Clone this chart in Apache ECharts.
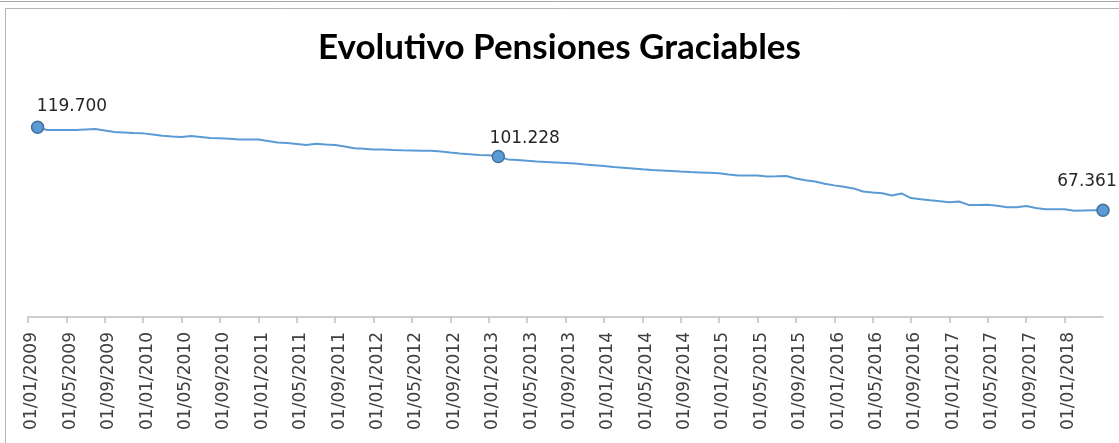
<!DOCTYPE html>
<html>
<head>
<meta charset="utf-8">
<title>Evolutivo Pensiones Graciables</title>
<script src="https://cdn.jsdelivr.net/npm/echarts@6/dist/echarts.min.js"></script>
<style>
  html, body { margin: 0; padding: 0; background: #fff; }
  #chart { width: 1119px; height: 443px; }
</style>
</head>
<body>
<div id="chart"></div>
<script>
  // etiquetas del eje, una cada 4 meses desde 01/01/2009
  var tickLabels = [
    '01/01/2009', '01/05/2009', '01/09/2009',
    '01/01/2010', '01/05/2010', '01/09/2010',
    '01/01/2011', '01/05/2011', '01/09/2011',
    '01/01/2012', '01/05/2012', '01/09/2012',
    '01/01/2013', '01/05/2013', '01/09/2013',
    '01/01/2014', '01/05/2014', '01/09/2014',
    '01/01/2015', '01/05/2015', '01/09/2015',
    '01/01/2016', '01/05/2016', '01/09/2016',
    '01/01/2017', '01/05/2017', '01/09/2017',
    '01/01/2018'
  ];

  // pensiones graciables a fin de cada mes, ene 2009 - abr 2018
  var pensiones = [
    119700, 117900, 117900, 117900, 117900, 118200, 118500, 117600, 116600, 116300, 116000, 115800,
    115100, 114300, 113800, 113500, 114100, 113500, 112900, 112700, 112400, 112000, 112000, 111900,
    111000, 110100, 109700, 109100, 108400, 109300, 108800, 108400, 107500, 106400, 106100, 105700,
    105600, 105300, 105100, 105000, 104900, 104800, 104400, 103700, 103100, 102600, 102100, 102000,
    101228, 99400, 99000, 98500, 98000, 97700, 97400, 97100, 96800, 96200, 95700, 95200,
    94600, 94100, 93600, 93100, 92700, 92400, 92100, 91700, 91400, 91200, 90900, 90600,
    89800, 89200, 89200, 89300, 88600, 88700, 88900, 87300, 86200, 85400, 84000, 83000,
    82100, 81100, 79100, 78500, 78100, 76600, 77900, 75000, 74300, 73600, 73000, 72300,
    72800, 70700, 70700, 70800, 70100, 69200, 69200, 70000, 68700, 67900, 67900, 67900,
    67000, 67200, 67300, 67361
  ];

  // puntos marcados con su valor
  var marcados = [0, 48, 111];

  var labelPos = {
    0: [6, -14],
    48: [-2, -11],
    111: [-39, -22]
  };

  function miles(v) {
    return String(v).replace(/\B(?=(\d{3})+(?!\d))/g, '.');
  }

  var seriesData = pensiones.map(function (v, i) {
    // el dato de cada mes se dibuja a fin de mes (un mes despues del dia 1)
    var item = { value: [i + 1, v] };
    if (marcados.indexOf(i) >= 0) {
      item.symbol = 'circle';
      item.symbolSize = 12;
      item.label = {
        show: true,
        position: labelPos[i],
        align: 'left',
        verticalAlign: 'middle',
        formatter: function (p) { return miles(p.value[1]); }
      };
    }
    return item;
  });

  var tickValues = tickLabels.map(function (t, k) { return k * 4; });

  var chart = echarts.init(document.getElementById('chart'));
  chart.setOption({
    animation: false,
    backgroundColor: '#fff',
    title: {
      text: 'Evolutivo Pensiones Graciables',
      left: 'center',
      top: 25,
      padding: [5, 5, 5, 13],
      textStyle: {
        fontFamily: 'Lato',
        fontWeight: 'bold',
        fontSize: 35,
        color: '#000'
      }
    },
    graphic: [{
      type: 'line',
      shape: { x1: 0, y1: 1.5, x2: 1119, y2: 1.5 },
      style: { stroke: '#a6a6a6', lineWidth: 1 }
    }, {
      type: 'rect',
      shape: { x: 5.5, y: 8.5, width: 1200, height: 500 },
      style: { fill: 'none', stroke: '#b5b5b5', lineWidth: 1 }
    }],
    grid: {
      left: 28,
      right: 16,
      top: 95,
      bottom: 126
    },
    xAxis: {
      type: 'value',
      min: 0,
      max: 112,
      splitLine: { show: false },
      axisLine: { lineStyle: { color: '#bfbfbf', width: 1.5 } },
      axisTick: {
        show: true,
        length: 6,
        customValues: tickValues,
        lineStyle: { color: '#bfbfbf', width: 1.5 }
      },
      axisLabel: {
        rotate: 90,
        margin: 15,
        verticalAlign: 'top',
        lineHeight: 8,
        customValues: tickValues,
        fontFamily: 'DejaVu Sans',
        fontSize: 17,
        color: '#404040',
        formatter: function (v) { return tickLabels[v / 4] || ''; }
      }
    },
    yAxis: {
      type: 'value',
      min: 0,
      max: 140000,
      show: false
    },
    series: [{
      type: 'line',
      data: seriesData,
      symbol: 'none',
      showAllSymbol: true,
      lineStyle: { color: '#5b9bd5', width: 2 },
      itemStyle: { color: '#5b9bd5', borderColor: '#41719c', borderWidth: 1.5 },
      label: {
        show: false,
        fontFamily: 'DejaVu Sans',
        fontSize: 17,
        color: '#262626'
      },
      emphasis: { disabled: true }
    }]
  });
</script>
</body>
</html>
